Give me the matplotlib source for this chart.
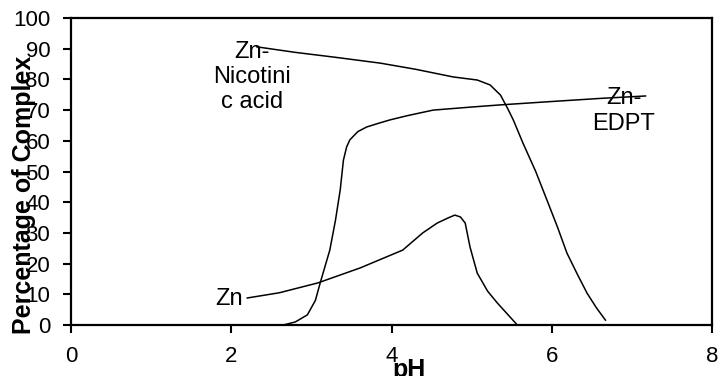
import matplotlib.pyplot as plt

plt.rcParams['font.family'] = ['Liberation Sans', 'DejaVu Sans']

# Zn-Nicotinic acid
nic_ph = [2.32, 2.8, 3.3, 3.86, 4.3, 4.77, 5.07, 5.23, 5.36, 5.45, 5.52, 5.64, 5.8, 5.94, 6.07, 6.19, 6.32, 6.44, 6.56, 6.67]
nic_pct = [90.6, 88.8, 87.2, 85.3, 83.3, 80.8, 79.8, 78.2, 74.9, 70.5, 66.8, 59.3, 50, 40.7, 32, 23.4, 16.5, 10.4, 5.5, 1.6]

# Zn-EDPT
edpt_ph = [2.42, 2.65, 2.8, 2.95, 3.05, 3.11, 3.23, 3.3, 3.36, 3.4, 3.44, 3.48, 3.58, 3.69, 3.85, 3.98, 4.2, 4.52, 5.0, 5.36, 6.0, 6.6, 7.17]
edpt_pct = [0, 0, 1, 3.3, 8, 13.7, 24.4, 34, 44, 53.7, 58, 60.3, 63, 64.5, 65.8, 66.8, 68.2, 70, 71, 71.7, 72.8, 73.8, 74.6]

# Zn
zn_ph = [2.2, 2.6, 3.08, 3.61, 4.14, 4.39, 4.57, 4.7, 4.79, 4.86, 4.92, 4.98, 5.07, 5.2, 5.32, 5.57]
zn_pct = [8.8, 10.5, 13.7, 18.6, 24.4, 30, 33.2, 34.8, 35.8, 35.2, 33.2, 25.4, 16.9, 11, 7.2, 0]

fig = plt.figure(figsize=(7.21, 3.76), dpi=100)
ax = fig.add_axes([71 / 721, 1 - 325 / 376, 641 / 721, 307 / 376])

for xs, ys in [(nic_ph, nic_pct), (edpt_ph, edpt_pct), (zn_ph, zn_pct)]:
    ax.plot(xs, ys, color='black', lw=1.1, solid_joinstyle='round')

ax.set_xlim(0, 8)
ax.set_ylim(0, 100)
ax.set_xticks([0, 2, 4, 6, 8])
ax.set_yticks(range(0, 101, 10))
ax.tick_params(direction='out', length=6, width=1.5, labelsize=16, pad=9)
for s in ax.spines.values():
    s.set_linewidth(1.6)

ax.set_xlabel('pH', fontsize=18, fontweight='bold')
ax.xaxis.set_label_coords(0.527, -0.107)
ax.set_ylabel('Percentage of Complex', fontsize=18, fontweight='bold')
ax.yaxis.set_label_coords(-0.055, 0.423)

ax.text(2.26, 80.8, 'Zn-\nNicotini\nc acid', fontsize=17, ha='center', va='center')
ax.text(6.9, 69.7, 'Zn-\nEDPT', fontsize=17, ha='center', va='center')
ax.text(1.97, 9.3, 'Zn', fontsize=17, ha='center', va='center_baseline')

fig.savefig('out.png', dpi=100)
